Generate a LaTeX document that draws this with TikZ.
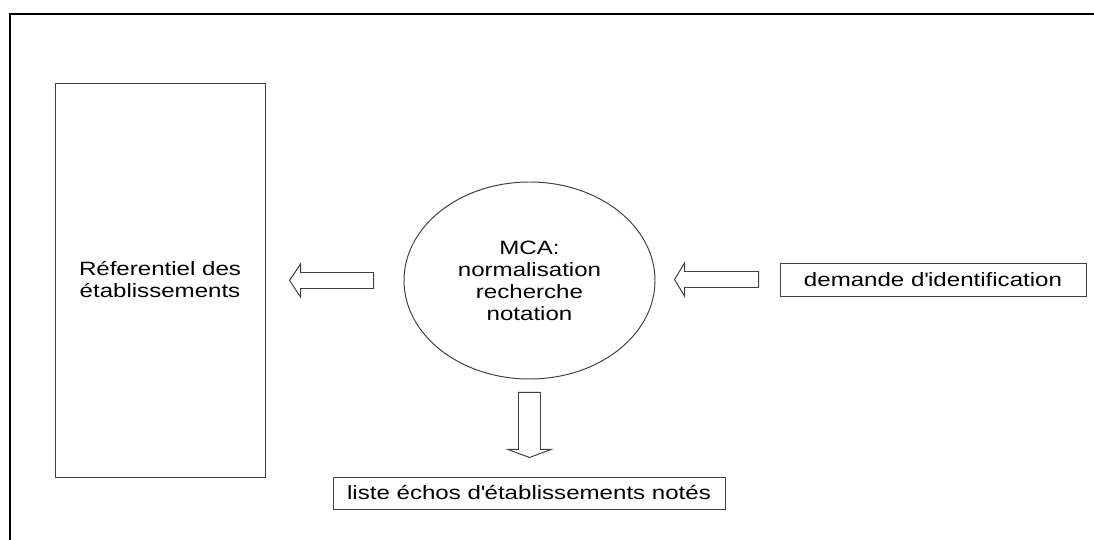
\documentclass[tikz,border=0pt]{standalone}
\usepackage{fontspec}
\setmainfont[FakeStretch=1.25]{Liberation Sans}
\usetikzlibrary{shapes.geometric, calc}
\def\pxu{0.025cm}
\tikzset{
  boxline/.style={draw=black!75, line width=0.7pt},
  entity/.style={boxline, rectangle, inner sep=0pt, align=center},
  process/.style={boxline, ellipse, inner sep=0pt, align=center},
  pics/blockarrow/.style args={#1/#2/#3/#4}{code={
      \draw[boxline, fill=white, line join=miter]
      (0,-#4) -- ({#1-#2},-#4) -- ({#1-#2},-#3) -- (#1,0)
      -- ({#1-#2},#3) -- ({#1-#2},#4) -- (0,#4) -- cycle;
    }},
}

\begin{document}
\begin{tikzpicture}[x=\pxu, y=\pxu, font=\fontsize{13.7}{15.65}\selectfont]
  \useasboundingbox (0,0) rectangle (1094,540);

  % Rahmen oben und links
  \draw[line width=1.9pt] (10,0) -- (10,526) -- (1094,526);

  % Referentiel links
  \node[entity, minimum width=210*\pxu, minimum height=394*\pxu]
  (referentiel) at (160,260) {Réferentiel des\\établissements};

  % MCA in der Mitte
  \node[process, minimum width=251*\pxu, minimum height=197*\pxu]
  (mca) at (529.5,259.5) {MCA:\\normalisation\\recherche\\notation};

  % Eingang rechts, Ausgang unten
  \node[entity, minimum width=306*\pxu, minimum height=33*\pxu]
  (demande) at (933,260.5) {demande d\textquotesingle identification};
  \node[entity, minimum width=392*\pxu, minimum height=32*\pxu]
  (liste) at (529,47) {liste échos d\textquotesingle établissements notés};

  % Blockpfeile
  \pic[rotate=180] at ($(mca.west)+(-30,0)$) {blockarrow=84/11/16.5/8};
  \pic[rotate=180] at ($(demande.west)+(-21,0)$) {blockarrow=84/10/16.5/8};
  \pic[rotate=-90] at ($(mca.south)+(0,-13)$) {blockarrow=65/8/21.5/11};
\end{tikzpicture}
\end{document}
